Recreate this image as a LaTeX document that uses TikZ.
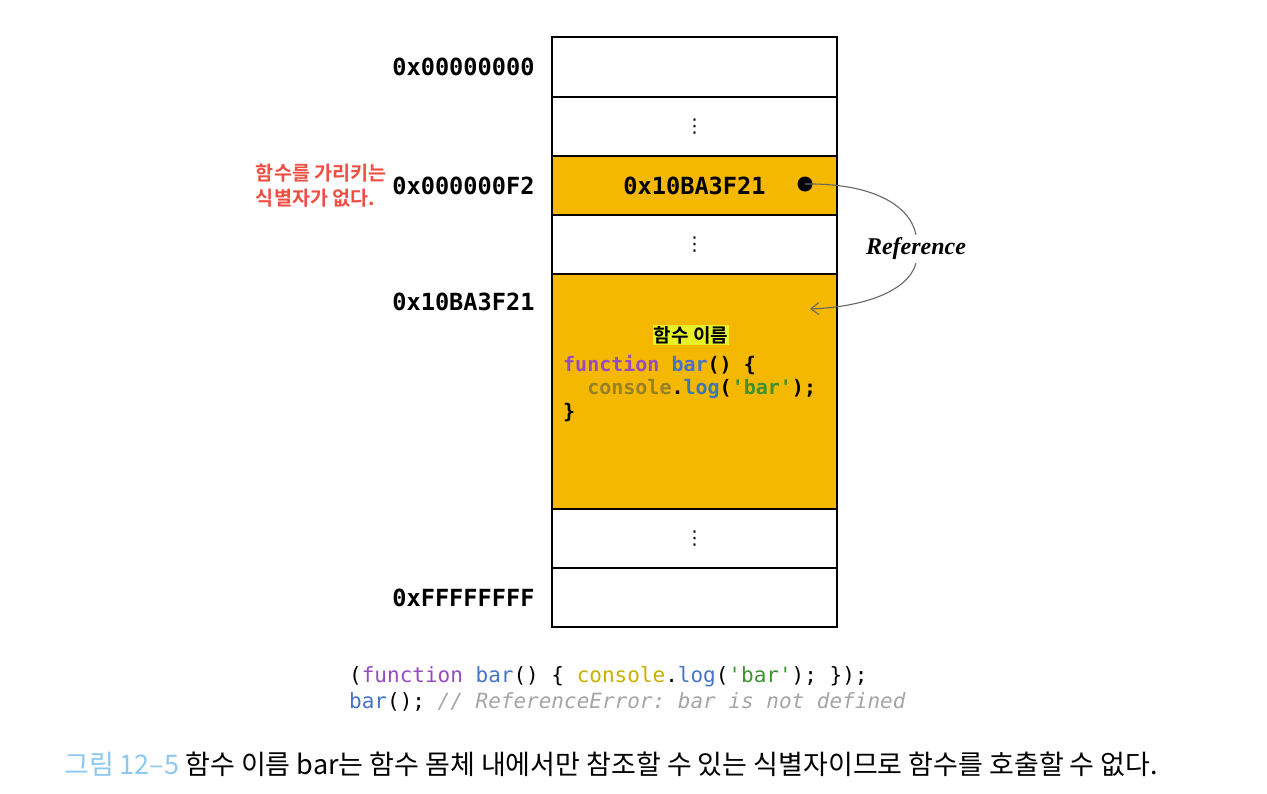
\documentclass[tikz,border=0pt]{standalone}
\usepackage{fontspec}
\setmonofont{DejaVu Sans Mono}
\newfontfamily\krfont{Noto Sans CJK KR}[BoldFont={Noto Sans CJK KR Bold}]
\newfontfamily\symfont{DejaVu Sans}
\newfontfamily\reffont{Liberation Serif}
\usepackage{xcolor}
\definecolor{memorange}{RGB}{245,184,0}
\definecolor{notered}{RGB}{240,78,66}
\definecolor{capblue}{RGB}{140,200,240}
\definecolor{hlyellow}{RGB}{232,240,40}
\definecolor{jspurple}{RGB}{150,75,190}
\definecolor{jsblue}{RGB}{70,115,200}
\definecolor{jsolive}{RGB}{150,128,40}
\definecolor{jsyellow}{RGB}{200,175,0}
\definecolor{jsteal}{RGB}{60,120,175}
\definecolor{jsgreen}{RGB}{60,145,50}
\definecolor{jsgrey}{RGB}{165,165,165}
\newcommand{\kw}[1]{\textcolor{jspurple}{#1}}
\newcommand{\fn}[1]{\textcolor{jsblue}{#1}}
\newcommand{\str}[1]{\textcolor{jsgreen}{#1}}
\newcommand{\addrfont}{\fontsize{23.6}{28}\selectfont\ttfamily\bfseries}
\usetikzlibrary{arrows.meta}
\usetikzlibrary{positioning}

\begin{document}
\begin{tikzpicture}[x=1pt, y=-1pt,
    cell/.style={draw, line width=1.2pt, minimum width=285pt, inner sep=0pt, outer sep=0pt},
    addr/.style={font=\addrfont},
    vdot/.style={inner sep=0pt, font=\symfont\fontsize{19}{19}\selectfont},
    refline/.style={draw=black!60, line width=1.1pt}]

      \useasboundingbox (0,0) rectangle (1267,793);

      % memory cells
      \node [cell, minimum height=60pt] (c0) at (694.5,67) {};
      \node [cell, minimum height=59pt, below=0pt of c0] (c1) {};
      \node [cell, minimum height=59pt, below=0pt of c1, fill=memorange] (c2) {};
      \node [cell, minimum height=59pt, below=0pt of c2] (c3) {};
      \node [cell, minimum height=235pt, below=0pt of c3, fill=memorange] (c4) {};
      \node [cell, minimum height=59pt, below=0pt of c4] (c5) {};
      \node [cell, minimum height=59pt, below=0pt of c5] (c6) {};
      \foreach \c in {c1, c3, c5}
        \node [vdot] at (\c) {⋮};

      % addresses
      \node [addr, left=14pt of c0] (a0) {0x00000000};
      \node [addr, left=14pt of c2] (a2) {0x000000F2};
      \node [addr, anchor=east] (a4) at ([xshift=-14pt, yshift=-28pt]c4.north west) {0x10BA3F21};
      \node [addr, left=14pt of c6] (a6) {0xFFFFFFFF};
      \node [left=2pt of a2, align=left, text=notered, inner sep=0pt,
             font=\krfont\bfseries\fontsize{19.6}{25}\selectfont] (note) {함수를 가리키는\\식별자가 없다.};

      % contents
      \node [addr] (v2) at (c2) {0x10BA3F21};
      \node [fill=hlyellow, inner sep=1pt, font=\krfont\bfseries\fontsize{19}{22}\selectfont] (fname) at (691,335) {함수 이름};
      \node [anchor=north west, align=left, inner sep=0pt,
             font=\fontsize{20}{23.5}\selectfont\ttfamily\bfseries] (body) at (563,355)
        {\kw{function} \fn{bar}() \{\\
         \hphantom{xx}\textcolor{jsolive}{console}.\textcolor{jsteal}{log}(\str{'bar'});\\
         \}};

      % reference arrow
      \coordinate (ptr) at (805,184);
      \coordinate (tip) at (810,309);
      \fill (ptr) circle (7.5pt);
      \node [font=\reffont\fontsize{24}{26}\selectfont\bfseries\itshape, inner sep=3pt] (refl) at (916,249) {Reference};
      \draw [refline] (ptr) .. controls (872,183) and (910,205) .. (refl.north);
      \draw [refline, -{Straight Barb[length=8pt, width=12pt]}] (refl.south) .. controls (908,292) and (862,307) .. (tip);

      % code and caption
      \node [anchor=west, align=left, inner sep=0pt, font=\fontsize{21}{26}\selectfont\ttfamily] (code) at (349,689)
        {(\kw{function} \fn{bar}() \{ \textcolor{jsyellow}{console}.\fn{log}(\str{'bar'}); \});\\
         \fn{bar}(); \textcolor{jsgrey}{\itshape // ReferenceError: bar is not defined}};
      \node [anchor=west, inner sep=0pt, font=\krfont\fontsize{27}{30}\selectfont] (cap) at (64,764)
        {\textcolor{capblue}{그림 12–5} 함수 이름 bar는 함수 몸체 내에서만 참조할 수 있는 식별자이므로 함수를 호출할 수 없다.};

    \end{tikzpicture}
\end{document}
